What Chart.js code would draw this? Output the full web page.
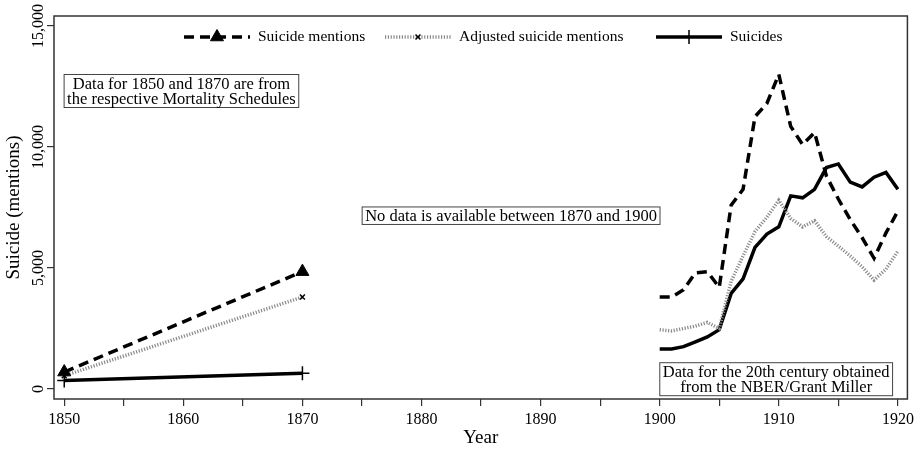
<!DOCTYPE html>
<html>
<head>
<meta charset="utf-8">
<script src="https://cdn.jsdelivr.net/npm/chart.js@4.4.1/dist/chart.umd.min.js"></script>
<style>
  html, body { margin: 0; padding: 0; background: #fff; }
</style>
</head>
<body>
<canvas id="chart" width="918" height="452"></canvas>
<script>
// years with data (gap between 1870 and 1900)
const years = [1850, 1870,
    1900, 1901, 1902, 1903, 1904, 1905, 1906, 1907, 1908, 1909,
    1910, 1911, 1912, 1913, 1914, 1915, 1916, 1917, 1918, 1919, 1920];

const suicideMentions = [700, 4850,
    3800, 3800, 4100, 4800, 4850, 4200, 7600, 8250, 11250, 11800,
    13000, 10850, 10100, 10600, 8800, 7850, 7000, 6250, 5400, 6450, 7350];

const adjustedMentions = [550, 3800,
    2450, 2400, 2500, 2600, 2750, 2500, 4450, 5500, 6500, 7100,
    7800, 7050, 6700, 6950, 6300, 5900, 5500, 5050, 4500, 4950, 5700];

const suicides = [350, 650,
    1650, 1650, 1750, 1950, 2150, 2450, 3950, 4550, 5850, 6400,
    6700, 7980, 7900, 8250, 9150, 9300, 8550, 8350, 8750, 8950, 8250];

const xTicks = [1850, 1855, 1860, 1865, 1870, 1875, 1880, 1885, 1890, 1895, 1900, 1905, 1910, 1915, 1920];
const yTicks = [0, 5000, 10000, 15000];

const serif = '"Liberation Serif", "Times New Roman", serif';

function toPoints(values) {
    let pts = [];
    years.forEach((yr, i) => {
        // null point breaks the line over the missing years
        if (yr === 1900) pts.push({x: 1885, y: null});
        pts.push({x: yr, y: values[i]});
    });
    return pts;
}

// only the mortality schedule years get markers
function markerRadius(r) {
    return ctx => (ctx.raw && ctx.raw.x <= 1870 ? r : 0);
}

const datasets = [{
    label: 'Suicide mentions',
    data: toPoints(suicideMentions),
    borderColor: '#000',
    backgroundColor: '#000',
    borderWidth: 3.5,
    borderDash: [10, 6],
    pointStyle: 'triangle',
    pointRadius: markerRadius(7.5),
    pointBorderWidth: 1,
    legendMarker: {style: 'triangle', radius: 7.5, width: 1}
}, {
    label: 'Adjusted suicide mentions',
    data: toPoints(adjustedMentions),
    borderColor: '#8a8a8a',
    backgroundColor: '#000',
    borderWidth: 3.5,
    borderDash: [1.2, 1.6],
    pointStyle: 'crossRot',
    pointRadius: markerRadius(3.5),
    pointBorderColor: '#000',
    pointBorderWidth: 1.5,
    legendMarker: {style: 'crossRot', radius: 3.5, width: 1.5}
}, {
    label: 'Suicides',
    data: toPoints(suicides),
    borderColor: '#000',
    backgroundColor: '#000',
    borderWidth: 3.5,
    pointStyle: 'cross',
    pointRadius: markerRadius(7),
    pointBorderColor: '#000',
    pointBorderWidth: 1.5,
    legendMarker: {style: 'cross', radius: 7, width: 1.5}
}];

// text boxes placed in data coordinates (centre)
const notes = [
    {lines: ['Data for 1850 and 1870 are from', 'the respective Mortality Schedules'], x: 1859.84, y: 12314},
    {lines: ['No data is available between 1870 and 1900'], x: 1887.52, y: 7161},
    {lines: ['Data for the 20th century obtained', 'from the NBER/Grant Miller'], x: 1909.78, y: 405}
];

// legend entries: start of line sample (px) on the top row
const legendPos = [184, 385, 656];

const decorPlugin = {
    id: 'decor',
    beforeDatasetsDraw(chart) {
        const {ctx, chartArea: a} = chart;
        ctx.save();
        ctx.strokeStyle = '#333';
        ctx.lineWidth = 1.5;
        ctx.strokeRect(a.left, a.top, a.right - a.left, a.bottom - a.top);
        ctx.restore();
    },
    afterDraw(chart) {
        const ctx = chart.ctx;
        const xs = chart.scales.x, ys = chart.scales.y;
        ctx.save();
        ctx.fillStyle = '#000';

        // rotated y tick labels
        ctx.font = '16px ' + serif;
        ctx.textAlign = 'center';
        ctx.textBaseline = 'middle';
        ys.ticks.forEach(t => {
            ctx.save();
            ctx.translate(39, ys.getPixelForValue(t.value));
            ctx.rotate(-Math.PI / 2);
            ctx.fillText(t.value.toLocaleString('en-US'), 0, 0);
            ctx.restore();
        });

        // notes
        ctx.font = '16.5px ' + serif;
        notes.forEach(n => {
            let w = Math.max(...n.lines.map(l => ctx.measureText(l).width)) + 6;
            let lh = 15.5;
            let h = n.lines.length * lh + 2;
            let cx = xs.getPixelForValue(n.x), cy = ys.getPixelForValue(n.y);
            ctx.fillStyle = '#fff';
            ctx.fillRect(cx - w / 2, cy - h / 2, w, h);
            ctx.strokeStyle = '#444';
            ctx.lineWidth = 1;
            ctx.strokeRect(cx - w / 2, cy - h / 2, w, h);
            ctx.fillStyle = '#000';
            n.lines.forEach((l, i) => {
                ctx.fillText(l, cx, cy - h / 2 + 1 + lh * (i + 0.5) + 1);
            });
        });

        // legend
        const ly = 37;
        ctx.font = '15.5px ' + serif;
        ctx.textAlign = 'left';
        chart.data.datasets.forEach((ds, i) => {
            let x0 = legendPos[i], x1 = x0 + 66;
            ctx.save();
            ctx.strokeStyle = ds.borderColor;
            ctx.lineWidth = ds.borderWidth;
            ctx.setLineDash(ds.borderDash || []);
            ctx.beginPath();
            ctx.moveTo(x0, ly);
            ctx.lineTo(x1, ly);
            ctx.stroke();
            ctx.restore();
            ctx.fillStyle = '#000';
            ctx.strokeStyle = '#000';
            ctx.lineWidth = ds.legendMarker.width;
            Chart.helpers.drawPoint(ctx, {
                pointStyle: ds.legendMarker.style,
                radius: ds.legendMarker.radius,
                borderWidth: ds.legendMarker.width,
                rotation: 0
            }, (x0 + x1) / 2, ly);
            ctx.fillStyle = '#000';
            ctx.fillText(ds.label, x1 + 8, ly);
        });
        ctx.restore();
    }
};

new Chart(document.getElementById('chart').getContext('2d'), {
    type: 'line',
    data: {datasets: datasets},
    options: {
        responsive: false,
        animation: false,
        spanGaps: false,
        layout: {padding: {top: 16, right: 10, left: 0, bottom: 0}},
        plugins: {
            legend: {display: false},
            tooltip: {enabled: false}
        },
        scales: {
            x: {
                type: 'linear',
                min: 1849.14,
                max: 1920.8,
                afterBuildTicks: s => { s.ticks = xTicks.map(v => ({value: v})); },
                afterFit: s => { s.height = 53; },
                grid: {drawOnChartArea: false, tickLength: 7, color: '#333', lineWidth: 1.2},
                border: {display: false},
                ticks: {
                    font: {family: serif, size: 16},
                    color: '#000',
                    padding: 4,
                    maxRotation: 0,
                    autoSkip: false,
                    callback: v => (v % 10 === 0 ? String(v) : '')
                },
                title: {display: true, text: 'Year', color: '#000', font: {family: serif, size: 19}, padding: {top: 2, bottom: 3}}
            },
            y: {
                min: -413,
                max: 15413,
                afterBuildTicks: s => { s.ticks = yTicks.map(v => ({value: v})); },
                afterFit: s => { s.width = 54; },
                grid: {drawOnChartArea: false, tickLength: 7, color: '#333', lineWidth: 1.2},
                border: {display: false},
                ticks: {display: false},
                title: {display: true, text: 'Suicide (mentions)', color: '#000', font: {family: serif, size: 19}, padding: {top: 3, bottom: 0}}
            }
        }
    },
    plugins: [decorPlugin]
});
</script>
</body>
</html>
